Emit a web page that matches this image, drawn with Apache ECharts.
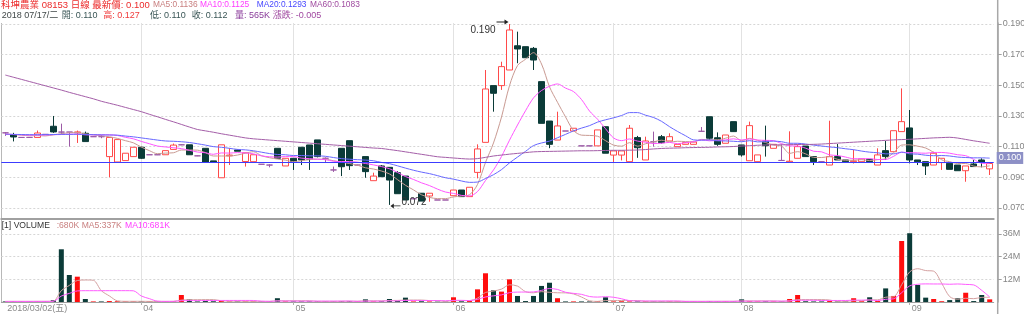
<!DOCTYPE html>
<html><head><meta charset="utf-8">
<script src="https://cdn.jsdelivr.net/npm/echarts@6/dist/echarts.min.js"></script>
<style>html,body{margin:0;padding:0;background:#fff}#c{width:1024px;height:314px}</style>
</head><body><div id="c"></div>
<script>
const year = '2018';
const firstWeekday = '五';
const dates = [
'03/02','03/05','03/06','03/07','03/08','03/09','03/12','03/13','03/14','03/15','03/16','03/19','03/20','03/21','03/22','03/23','03/26',
'04/03','04/04','04/06','04/09','04/10','04/11','04/12','04/13','04/16','04/17','04/18','04/19','04/20','04/23','04/24','04/25','04/26','04/27','04/30',
'05/02','05/03','05/04','05/07','05/08','05/09','05/10','05/11','05/14','05/15','05/16','05/17','05/18','05/21','05/23','05/24','05/25','05/28','05/29','05/30',
'06/01','06/04','06/05','06/06','06/07','06/08','06/11','06/12','06/13','06/14','06/15','06/19','06/20','06/21','06/22','06/25','06/26','06/27','06/28','06/29',
'07/03','07/04','07/05','07/06','07/09','07/10','07/11','07/12','07/13','07/16','07/17','07/18','07/19','07/20','07/23','07/24',
'08/01','08/02','08/03','08/06','08/07','08/08','08/09','08/10','08/13','08/14','08/15','08/16','08/17','08/20','08/21','08/22','08/23','08/24','08/27','08/28','08/29',
'09/03','09/04','09/05','09/06','09/07','09/10','09/11','09/12','09/13','09/14','09/17'];

const open = [
.1190,.1178,.1160,.1160,.1160,.1180,.1233,.1195,.1195,.1190,
.1187,.1165,.1165,.1035,.1000,.1009,.1035,.1096,.1047,.1047,
.1047,.1082,.1112,.1112,.1040,.1089,.1007,.0897,.1040,.1078,
.1003,.1002,.0985,.0980,.1089,.0974,.1024,.1096,.1111,.1144,
.1024,.0948,.1089,.1139,.0980,.1035,.0878,.0974,.0965,.0930,
.0908,.0760,.0796,.0778,.0752,.0752,.0780,.0817,.0774,.0932,
.1128,.1498,.1498,.1600,.1758,.1752,.1741,.1524,.1267,.1143,
.1202,.1202,.1105,.1105,.1105,.1230,.1045,.1045,.1002,.1159,
.1013,.1132,.1165,.1137,.1100,.1115,.1115,.1200,.1295,.1158,
.1122,.1263,.1111,.1008,.1002,.1137,.1089,.1010,.1000,.1024,
.1104,.1035,.1002,.0980,.1035,.1013,.1002,.1002,.1017,.0980,
.1074,.1067,.1198,.1222,.1013,.1002,.0980,.0996,.0991,.0980,
.0943,.0987,.1013,.0955];
const close = [
.1190,.1163,.1160,.1160,.1189,.1180,.1196,.1195,.1195,.1196,
.1133,.1165,.1165,.1160,.1146,.1057,.1096,.1024,.1047,.1047,
.1074,.1110,.1112,.1047,.1040,.0998,.0998,.1112,.1045,.1070,
.1060,.1047,.0985,.0980,.1024,.1024,.0998,.1013,.1018,.1035,
.1024,.0948,.0969,.0976,.0980,.0937,.0908,.0904,.0882,.0793,
.0752,.0760,.0745,.0796,.0752,.0752,.0817,.0774,.0835,.1085,
.1476,.1448,.1622,.1861,.1737,.1680,.1665,.1252,.1115,.1235,
.1202,.1220,.1105,.1105,.1209,.1057,.1072,.1072,.1220,.1093,
.1137,.1132,.1126,.1165,.1115,.1126,.1130,.1200,.1155,.1115,
.1176,.1198,.1046,.1237,.1046,.1106,.1115,.1010,.1005,.1100,
.1035,.1002,.1002,.1035,.1013,.1002,.1007,.1020,.1002,.1046,
.1035,.1204,.1263,.1013,.1002,.0974,.1057,.1024,.0952,.0943,
.0974,.0970,.0999,.0990];
const low = [
.1170,.1134,.1160,.1158,.1160,.1178,.1190,.1180,.1100,.1124,
.1133,.1163,.1155,.0900,.1000,.1009,.1035,.1020,.1047,.1045,
.1047,.1082,.1110,.1047,.1038,.0998,.0998,.0897,.0980,.1070,
.0970,.1002,.0985,.0965,.1024,.0974,.0948,.0980,.0948,.1030,
.0998,.0935,.0908,.0948,.0978,.0897,.0878,.0904,.0720,.0793,
.0752,.0758,.0745,.0741,.0752,.0752,.0780,.0774,.0774,.0893,
.1128,.1328,.1470,.1600,.1644,.1680,.1600,.1252,.1090,.1143,
.1202,.1202,.1105,.1105,.1105,.1057,.1000,.1010,.1002,.1027,
.1013,.1100,.1120,.1137,.1100,.1115,.1115,.1200,.1143,.1105,
.1122,.1198,.1035,.1008,.1002,.1035,.1089,.1010,.1000,.1024,
.1035,.0980,.1000,.0980,.1013,.1002,.0990,.1002,.1002,.0980,
.1013,.1067,.1198,.0991,.0980,.0915,.0980,.0948,.0952,.0943,
.0871,.0970,.0965,.0915];
const high = [
.1195,.1190,.1160,.1162,.1205,.1182,.1300,.1250,.1195,.1205,
.1198,.1167,.1176,.1160,.1146,.1057,.1096,.1100,.1047,.1049,
.1074,.1120,.1114,.1112,.1042,.1089,.1007,.1112,.1090,.1080,
.1060,.1047,.0985,.0985,.1089,.1024,.1024,.1096,.1111,.1144,
.1030,.0970,.1089,.1139,.0982,.1035,.0930,.0980,.0965,.0940,
.0908,.0762,.0796,.0796,.0752,.0752,.0817,.0817,.0835,.1115,
.1600,.1498,.1654,.1900,.1850,.1752,.1750,.1524,.1267,.1328,
.1202,.1220,.1105,.1105,.1209,.1230,.1072,.1072,.1241,.1170,
.1165,.1198,.1176,.1187,.1115,.1126,.1130,.1228,.1295,.1193,
.1176,.1263,.1111,.1263,.1046,.1237,.1115,.1115,.1200,.1115,
.1104,.1035,.1004,.1269,.1117,.1013,.1080,.1020,.1017,.1089,
.1137,.1204,.1480,.1339,.1013,.1002,.1067,.1024,.0991,.0980,
.0974,.1013,.1024,.0990];
const ma5 = [
.1182,.1179,.1175,.1171,.1172,.1170,.1177,.1184,.1191,.1192,
.1183,.1177,.1171,.1164,.1154,.1139,.1125,.1097,.1074,.1054,
.1058,.1060,.1078,.1078,.1077,.1061,.1039,.1039,.1039,.1045,
.1057,.1067,.1041,.1028,.1019,.1012,.1002,.1008,.1015,.1018,
.1018,.1008,.0999,.0990,.0979,.0962,.0954,.0941,.0922,.0885,
.0848,.0818,.0786,.0769,.0761,.0761,.0772,.0778,.0786,.0853,
.0997,.1124,.1293,.1498,.1629,.1670,.1713,.1639,.1490,.1389,
.1294,.1205,.1175,.1173,.1168,.1139,.1110,.1103,.1126,.1103,
.1119,.1131,.1142,.1131,.1135,.1133,.1132,.1147,.1145,.1145,
.1155,.1169,.1138,.1154,.1141,.1127,.1110,.1103,.1056,.1067,
.1053,.1030,.1029,.1035,.1017,.1011,.1012,.1015,.1009,.1015,
.1022,.1061,.1110,.1112,.1103,.1091,.1062,.1014,.1002,.0990,
.0990,.0973,.0968,.0975];
const ma10 = [
.1181,.1179,.1177,.1175,.1176,.1176,.1178,.1179,.1181,.1182,
.1177,.1177,.1177,.1177,.1173,.1161,.1151,.1134,.1119,.1104,
.1098,.1093,.1087,.1076,.1065,.1060,.1050,.1059,.1058,.1061,
.1059,.1053,.1040,.1034,.1032,.1035,.1035,.1025,.1022,.1018,
.1015,.1005,.1003,.1003,.0999,.0990,.0981,.0970,.0956,.0932,
.0905,.0886,.0864,.0846,.0823,.0804,.0795,.0782,.0778,.0807,
.0879,.0948,.1036,.1142,.1241,.1334,.1418,.1466,.1494,.1509,
.1482,.1459,.1407,.1332,.1279,.1217,.1157,.1139,.1150,.1136,
.1129,.1120,.1122,.1128,.1119,.1126,.1132,.1144,.1138,.1140,
.1144,.1151,.1143,.1150,.1143,.1141,.1139,.1120,.1105,.1104,
.1090,.1070,.1066,.1046,.1042,.1032,.1021,.1022,.1022,.1016,
.1016,.1037,.1063,.1061,.1059,.1057,.1062,.1062,.1057,.1047,
.1041,.1017,.0991,.0989];
const ma20 = [
.1181,.1180,.1179,.1178,.1178,.1178,.1179,.1180,.1180,.1181,
.1179,.1178,.1177,.1176,.1175,.1169,.1164,.1157,.1150,.1143,
.1137,.1135,.1132,.1127,.1119,.1110,.1100,.1096,.1089,.1082,
.1079,.1073,.1064,.1055,.1049,.1047,.1042,.1042,.1040,.1040,
.1037,.1029,.1022,.1018,.1015,.1012,.1008,.0997,.0989,.0975,
.0960,.0946,.0934,.0924,.0911,.0897,.0888,.0876,.0867,.0869,
.0892,.0917,.0950,.0994,.1032,.1069,.1107,.1124,.1136,.1158,
.1180,.1203,.1221,.1237,.1260,.1275,.1288,.1303,.1322,.1322,
.1305,.1290,.1265,.1230,.1199,.1171,.1144,.1142,.1144,.1138,
.1137,.1135,.1132,.1139,.1131,.1133,.1136,.1132,.1122,.1122,
.1117,.1110,.1104,.1098,.1093,.1086,.1080,.1071,.1064,.1060,
.1053,.1053,.1064,.1053,.1051,.1044,.1041,.1042,.1039,.1032,
.1029,.1027,.1027,.1025];
const ma60 = [
.1567,.1553,.1539,.1525,.1511,.1497,.1483,.1469,.1454,.1440,
.1426,.1412,.1396,.1383,.1370,.1356,.1342,.1328,.1311,.1295,
.1278,.1262,.1245,.1228,.1212,.1203,.1194,.1184,.1175,.1166,
.1157,.1151,.1147,.1143,.1139,.1135,.1131,.1127,.1123,.1119,
.1115,.1111,.1107,.1103,.1099,.1095,.1091,.1088,.1081,.1074,
.1066,.1058,.1050,.1042,.1034,.1030,.1026,.1022,.1019,.1022,
.1030,.1039,.1045,.1051,.1056,.1061,.1066,.1068,.1069,.1070,
.1071,.1072,.1073,.1073,.1074,.1075,.1076,.1076,.1077,.1078,
.1081,.1085,.1088,.1090,.1091,.1093,.1094,.1095,.1096,.1098,
.1099,.1101,.1104,.1106,.1109,.1111,.1112,.1112,.1113,.1114,
.1114,.1115,.1117,.1120,.1123,.1126,.1129,.1132,.1135,.1138,
.1141,.1144,.1146,.1148,.1151,.1154,.1157,.1159,.1161,.1156,
.1147,.1138,.1130,.1122];
const volume = [
0.3,0.4,0.3,0.3,0.4,0.3,1.0,27.9,14.3,13.4,
1.6,0.3,0.3,0.5,0.4,0.3,0.3,0.3,0.3,0.3,
0.3,0.4,3.7,1.4,0.3,0.5,0.4,0.6,0.3,0.3,
0.3,0.3,0.3,0.3,2.0,0.3,0.3,0.3,0.3,0.4,
0.3,0.3,0.5,0.5,0.3,1.4,0.3,0.4,1.6,0.5,
2.3,0.3,0.4,0.3,0.2,0.2,2.5,0.4,0.5,6.7,
15.2,6.2,5.5,12.0,3.2,0.5,3.2,8.5,10.2,2.0,
0.3,0.3,0.3,0.3,0.4,2.5,0.3,0.4,0.3,0.3,
0.4,0.3,0.3,0.4,0.3,0.3,0.3,0.3,0.5,0.3,
0.4,0.3,1.4,0.4,0.3,0.4,0.3,0.3,1.6,3.7,
0.4,0.3,0.3,0.5,0.3,0.3,2.0,0.4,2.5,0.5,
7.2,3.2,32.3,36.4,9.0,2.3,1.6,0.4,1.0,2.0,
4.9,0.5,3.7,1.4];
const volMa5 = [
.30,.32,.32,.32,.34,.34,.46,5.98,8.78,11.38,
11.64,11.5,5.98,3.22,.62,.36,.36,.36,.32,.30,
.30,.32,1.0,1.22,1.22,1.26,1.26,.64,.42,.42,
.38,.36,.30,.30,.64,.64,.64,.64,.64,.32,
.32,.32,.36,.40,.38,.60,.60,.58,.80,.84,
1.02,1.02,1.02,.76,.70,.28,.72,.72,.76,2.06,
5.06,5.8,6.82,9.12,8.42,5.48,4.88,5.48,5.12,4.88,
4.84,4.26,2.62,.64,.32,.76,.76,.78,.78,.76,
.34,.34,.32,.34,.34,.32,.32,.32,.34,.34,
.36,.36,.58,.56,.56,.56,.56,.34,.58,1.26,
1.26,1.26,1.26,1.04,.36,.34,.68,.70,1.10,1.14,
2.52,2.76,9.14,15.92,17.62,16.64,16.32,9.94,2.86,1.46,
1.98,1.76,2.42,2.50];
const volMa10 = [
.30,.31,.31,.31,.32,.32,.39,3.15,4.55,5.86,
5.99,5.98,5.98,6.00,6.00,6.00,5.93,3.17,1.77,.46,
.33,.34,.68,.77,.76,.78,.79,.82,.82,.82,
.82,.81,.47,.36,.53,.51,.50,.47,.47,.48,
.48,.48,.50,.52,.35,.46,.46,.47,.60,.61,
.81,.81,.80,.78,.77,.65,.87,.87,.76,1.38,
2.67,3.26,3.77,4.94,5.24,5.27,5.34,6.15,7.12,6.65,
5.16,4.57,4.05,2.88,2.60,2.80,2.51,1.70,.71,.54,
.55,.55,.55,.56,.55,.33,.33,.32,.34,.34,
.34,.34,.45,.45,.45,.46,.46,.46,.57,.91,
.91,.91,.80,.81,.81,.80,.97,.98,1.07,.75,
1.43,1.72,4.92,8.51,9.38,9.58,9.54,9.54,9.39,9.54,
9.31,9.04,6.18,2.68];
const priceTicks = [0.07, 0.09, 0.11, 0.13, 0.15, 0.17, 0.19];
const volTicks = [12, 24, 36];
const lastPrice = 0.100;

const headerLine1 = [['科坤農業 08153 日線 最新價: 0.100', 1, '#ec2b2b', 9.5],
  ['MA5:0.1136', 153, '#c98080', 8.4], ['MA10:0.1125', 200, '#ff3cff', 8.4], ['MA20:0.1293', 256.7, '#4848ff', 8.4], ['MA60:0.1083', 310, '#a04ca0', 8.4]];
const headerLine2 = [['2018 07/17/二', 1.7, '#404848', 9], ['開: 0.110', 61.7, '#3a5656', 9], ['高: 0.127', 103.3, '#f03a3a', 9], ['低: 0.110', 150, '#3a5656', 9], ['收: 0.112', 191.7, '#3a5656', 9], ['量: 565K', 235, '#8a3c9a', 9], ['漲跌: -0.005', 272.7, '#a048a0', 9]];
const volHeader = [['[1] VOLUME', 1.7, '#333333', 8.6], [':680K', 56.7, '#c98080', 8.6], ['MA5:337K', 81.7, '#c98080', 8.6], ['MA10:681K', 125, '#ff3cff', 8.6]];

const FONT = '"Liberation Sans","Noto Sans CJK TC",sans-serif';
const UP = '#ff4a4a', DOWN = '#0b3b38', DOJI = '#9c5aa6';
const VOL_UP = '#ff0d0d', VOL_DOWN = '#0b3b38';

const monthStart = dates.map((d, i) => i === 0 || d.slice(0, 2) !== dates[i - 1].slice(0, 2));
const gridLineAt = (i) => i > 0 && monthStart[i];
const candleData = open.map((o, i) => [o, close[i], low[i], high[i]]);
const volData = volume.map((v, i) => {
  const up = close[i] > open[i] || (close[i] === open[i] && i > 0 && close[i] > close[i - 1]);
  return { value: v, itemStyle: { color: up ? VOL_UP : VOL_DOWN } };
});

const txt = (arr, top) => arr.map(([t, x, c, fs]) => ({
  type: 'text', left: x, top: top, silent: true,
  style: { text: t, fill: c, font: fs + 'px ' + FONT }
}));

const arrowRight = 'path://M0,2.5L8,2.5L8,0L12,3L8,6L8,3.5L0,3.5Z';
const arrowLeft = 'path://M12,2.5L4,2.5L4,0L0,3L4,6L4,3.5L12,3.5Z';

const chart = echarts.init(document.getElementById('c'), null, { renderer: 'canvas' });
const lineS = (name, data, color, xi) => ({
  name, type: 'line', data, xAxisIndex: xi, yAxisIndex: xi, symbol: 'none', smooth: 0.3,
  lineStyle: { color, width: 1 }, silent: true, z: 3
});

chart.setOption({
  animation: false,
  backgroundColor: '#ffffff',
  textStyle: { fontFamily: FONT },
  grid: [
    { left: 1.3, top: 23, width: 992.4, height: 196, containLabel: false, outerBoundsMode: 'none' },
    { left: 1.3, top: 220, width: 992.4, height: 82, containLabel: false, outerBoundsMode: 'none' }
  ],
  xAxis: [
    { type: 'category', gridIndex: 0, data: dates, boundaryGap: true,
      axisLine: { show: true, lineStyle: { color: '#a0a0a0', width: 2 } },
      axisTick: { show: false }, axisLabel: { show: false },
      splitLine: { show: true, interval: (i) => gridLineAt(i), alignWithLabel: true, lineStyle: { color: '#e2e2e2', width: 1 } } },
    { type: 'category', gridIndex: 1, data: dates, boundaryGap: true,
      axisLine: { show: true, lineStyle: { color: '#a0a0a0', width: 1 } },
      axisTick: { show: true, interval: (i) => gridLineAt(i), alignWithLabel: true, length: 3, lineStyle: { color: '#b0b0b0' } },
      axisLabel: { show: true, interval: (i) => monthStart[i], align: 'left', margin: 2, fontSize: 9, color: '#8a8a8a', padding: [0, 0, 0, 2],
        formatter: (v, i) => i === 0 ? year + '/' + v + '(' + firstWeekday + ')' : v.slice(0, 2) },
      splitLine: { show: true, interval: (i) => gridLineAt(i), alignWithLabel: true, lineStyle: { color: '#e2e2e2', width: 1 } } }
  ],
  yAxis: [
    { type: 'value', gridIndex: 0, position: 'right', offset: 4, min: 0.0628, max: 0.19065, scale: true,
      axisLine: { show: true, lineStyle: { color: '#a8a8a8', width: 1.5 } },
      axisTick: { show: true, length: 4, customValues: priceTicks, lineStyle: { color: '#a0a0a0' } },
      axisLabel: { customValues: priceTicks, formatter: (v) => v.toFixed(3), color: '#858585', fontSize: 9, margin: 5 },
      splitLine: { show: true, lineStyle: { color: '#d6d6d6', type: [2, 2] } } },
    { type: 'value', gridIndex: 1, position: 'right', offset: 4, min: 0, max: 43.4,
      axisLine: { show: true, lineStyle: { color: '#a8a8a8', width: 1.5 } },
      axisTick: { show: true, length: 4, customValues: volTicks, lineStyle: { color: '#a0a0a0' } },
      axisLabel: { customValues: volTicks, formatter: (v) => v + 'M', color: '#858585', fontSize: 9, margin: 5 },
      splitLine: { show: true, lineStyle: { color: '#d6d6d6', type: [2, 2] } } }
  ],
  graphic: [
    ...txt(headerLine1, 0.3), ...txt(headerLine2, 11.5), ...txt(volHeader, 221.5),
    { type: 'line', silent: true, shape: { x1: 997.7, y1: 0, x2: 997.7, y2: 314 }, style: { stroke: '#a8a8a8', lineWidth: 1.5 } },
    { type: 'line', silent: true, shape: { x1: 1.5, y1: 23, x2: 1.5, y2: 302 }, style: { stroke: '#b8b8b8', lineWidth: 1 } }
  ],
  series: [
    { name: 'K', type: 'candlestick', xAxisIndex: 0, yAxisIndex: 0, data: candleData, barWidth: 6, silent: true,
      itemStyle: { color: '#ffffff', color0: DOWN, borderColor: UP, borderColor0: DOWN, borderColorDoji: DOJI, borderWidth: 1 },
      markLine: { silent: true, symbol: ['none', 'none'], animation: false,
        lineStyle: { color: '#3c3cff', width: 1, type: 'solid' },
        label: { show: true, position: 'end', formatter: () => lastPrice.toFixed(3), backgroundColor: '#8d90c6', color: '#ffffff',
          fontSize: 9, padding: [2, 2, 1, 2], distance: 3, offset: [0, -4] },
        data: [{ yAxis: lastPrice }] },
      markPoint: { silent: true, animation: false,
        itemStyle: { color: '#222222' },
        data: [
          { type: 'max', valueDim: 'highest', symbol: arrowRight, symbolSize: [12, 5], symbolOffset: [-7, -2],
            label: { show: true, position: 'left', distance: 1, offset: [0, 8], color: '#333', fontSize: 10, formatter: (p) => Number(p.value).toFixed(3) } },
          { type: 'min', valueDim: 'lowest', symbol: arrowLeft, symbolSize: [10, 5], symbolOffset: [6, 1],
            label: { show: true, position: 'right', distance: 1, offset: [0, -4], color: '#333', fontSize: 10, formatter: (p) => Number(p.value).toFixed(3) } }
        ] } },
    lineS('MA5', ma5, '#c99a92', 0),
    lineS('MA10', ma10, '#ff55ff', 0),
    lineS('MA20', ma20, '#6767ff', 0),
    lineS('MA60', ma60, '#a45ea8', 0),
    { name: 'VOL', type: 'bar', xAxisIndex: 1, yAxisIndex: 1, data: volData, barWidth: 5, silent: true },
    lineS('VMA5', volMa5, '#d4a0a0', 1),
    lineS('VMA10', volMa10, '#ff5cff', 1)
  ]
});
</script>
</body></html>
